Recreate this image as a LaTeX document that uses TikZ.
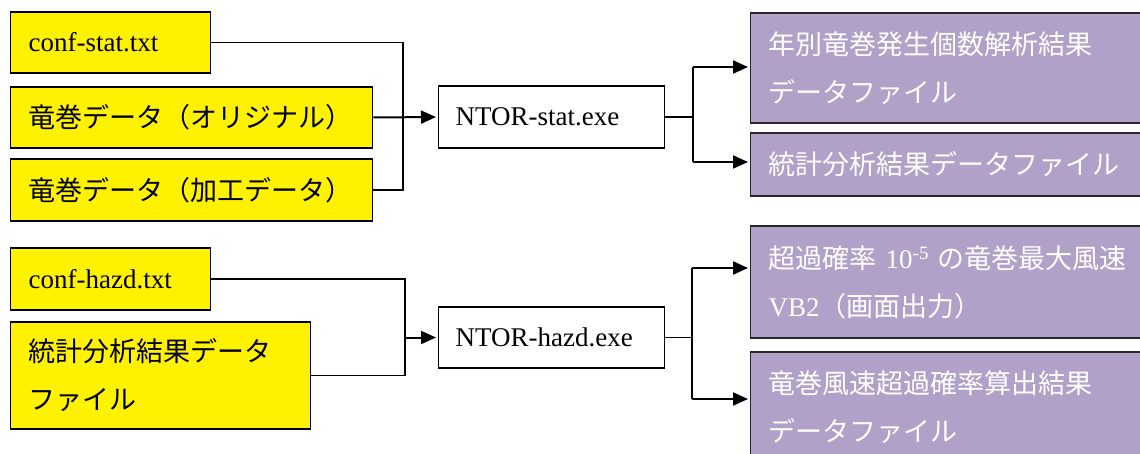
\documentclass[tikz,border=0pt]{standalone}
\usepackage{fontspec}
\setmainfont{Liberation Serif}
\newfontfamily\jpfont{Noto Sans CJK JP}
\usetikzlibrary{arrows.meta}
\definecolor{outfill}{HTML}{B1A0C7}

\begin{document}
\begin{tikzpicture}[x=1pt,y=-1pt,
			box/.style={draw,line width=1.4pt,inner xsep=18pt,inner ysep=0pt,
				align=left,anchor=west,font=\fontsize{27}{48}\selectfont},
			inbox/.style={box,fill=yellow},
			exebox/.style={box,fill=white,inner xsep=17pt},
			outbox/.style={box,fill=outfill,text=white,draw=black!85},
			wire/.style={line width=1.2pt},
			flow/.style={line width=2pt,shorten >=2pt,
				-{Triangle[length=15pt,width=13pt]}}]
			
			\useasboundingbox (0,0) rectangle (1140,454);
			\clip (0,0) rectangle (1140,454);
			
			% Upper chain: inputs of NTOR-stat
			\node[inbox,text width=164pt,minimum height=61pt] (stcfg) at (10,42.5) {conf-stat.txt};
			\node[inbox,text width=326pt,minimum height=61pt] (storig) at (10,117.5) {\jpfont 竜巻データ（オリジナル）};
			\node[inbox,text width=326pt,minimum height=62pt] (stproc) at (10,190) {\jpfont 竜巻データ（加工データ）};
			
			% Upper chain: program and its results
			\node[exebox,text width=192pt,minimum height=62pt] (stexe) at (438,117) {NTOR-stat.exe};
			\node[outbox,text width=364pt,minimum height=110pt] (styear) at (750,68)
			{\jpfont 年別竜巻発生個数解析結果\\データファイル};
			\node[outbox,text width=364pt,minimum height=63pt] (stres) at (750,164.5)
			{\jpfont 統計分析結果データファイル};
			
			% Lower chain: inputs of NTOR-hazd
			\node[inbox,text width=164pt,minimum height=62pt] (hzcfg) at (10,279) {conf-hazd.txt};
			\node[inbox,text width=264pt,minimum height=107pt] (hzstat) at (10,375.5)
			{\jpfont 統計分析結果データ\\ファイル};
			
			% Lower chain: program and its results
			\node[exebox,text width=192pt,minimum height=61pt] (hzexe) at (438,337.5) {NTOR-hazd.exe};
			\node[outbox,text width=364pt,minimum height=112pt] (hzvb2) at (750,282)
			{{\jpfont 超過確率} 10\textsuperscript{-5} {\jpfont の竜巻最大風速}\\VB2{\jpfont （画面出力）}};
			\node[outbox,text width=364pt,minimum height=110pt] (hzrate) at (750,407)
			{\jpfont 竜巻風速超過確率算出結果\\データファイル};
			
			% Upper connectors
			\coordinate (stjoin) at (403,117);
			\coordinate (stfork) at (693,117);
			\coordinate (stup) at (693,67);
			\coordinate (stdn) at (693,162);
			\draw[wire] (stcfg.east) -| (stjoin);
			\draw[wire] (stproc.east) -| (stjoin);
			\draw[flow] (storig.east) -- (stexe.west);
			\draw[wire] (stexe.east) -- (stfork);
			\draw[wire] (stup) -- (stdn);
			\draw[flow] (stup) -- (stup -| styear.west);
			\draw[flow] (stdn) -- (stdn -| stres.west);
			
			% Lower connectors
			\coordinate (hzjoin) at (405,337.5);
			\coordinate (hzfork) at (692,337.5);
			\coordinate (hzup) at (692,268);
			\coordinate (hzdn) at (692,399);
			\draw[wire] (hzcfg.east) -| (hzjoin);
			\draw[wire] (hzstat.east) -| (hzjoin);
			\draw[flow] (hzjoin) -- (hzexe.west);
			\draw[wire] (hzexe.east) -- (hzfork);
			\draw[wire] (hzup) -- (hzdn);
			\draw[flow] (hzup) -- (hzup -| hzvb2.west);
			\draw[flow] (hzdn) -- (hzdn -| hzrate.west);
			
		\end{tikzpicture}
\end{document}
